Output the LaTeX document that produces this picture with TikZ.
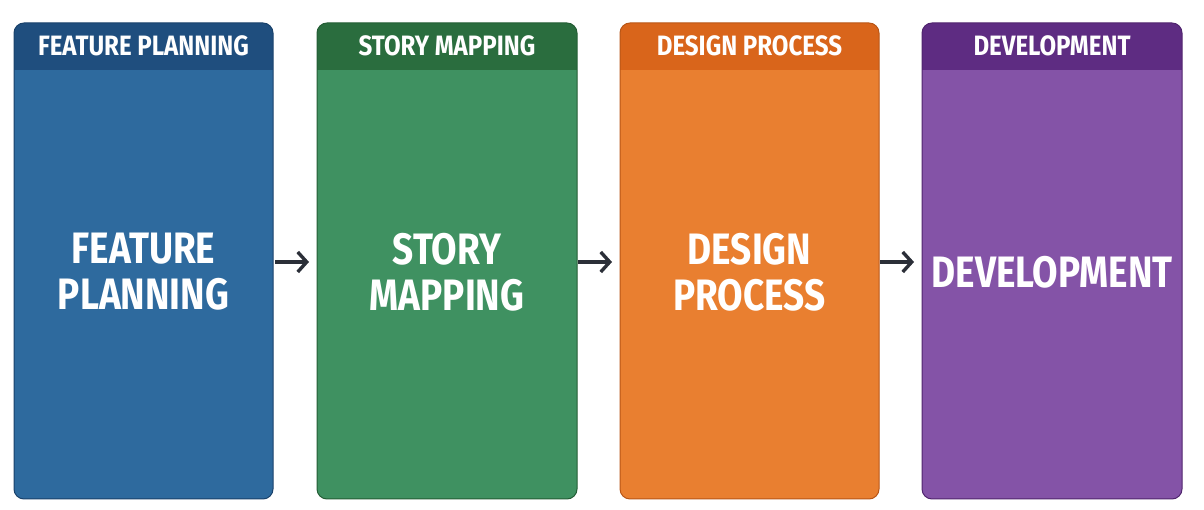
\documentclass[tikz,border=0pt]{standalone}
\usepackage{fontspec}
\setmainfont{Fira Sans}
\newfontfamily\condb[FakeStretch=0.84]{Fira Sans Bold}
\newfontfamily\condh[FakeStretch=0.86]{Fira Sans Bold}
\usetikzlibrary{arrows.meta}
\definecolor{bluebody}{HTML}{2E6A9E}
\definecolor{bluehead}{HTML}{1F4E7E}
\definecolor{greenbody}{HTML}{3F9161}
\definecolor{greenhead}{HTML}{2A6D3E}
\definecolor{orangebody}{HTML}{E97F30}
\definecolor{orangehead}{HTML}{D9651B}
\definecolor{purplebody}{HTML}{8453A7}
\definecolor{purplehead}{HTML}{5E2C82}
\definecolor{arrowgray}{HTML}{2B2F38}
\tikzset{
  x=1pt,y=1pt,
  headtext/.style={text=white, font=\condh\fontsize{28}{30}\selectfont, anchor=center},
  bigtext/.style={text=white, font=\condb\fontsize{44}{46}\selectfont, align=center, anchor=center},
  flow/.style={draw=arrowgray, line width=3.4pt, -{Straight Barb[length=9pt,width=20pt,line width=3.4pt]}}
}
\begin{document}
\begin{tikzpicture}
\useasboundingbox (0,0) rectangle (1204,510);
\foreach \xa/\xb/\col in {14/273/blue, 317/577/green, 620/879/orange, 922/1182/purple}{
  \fill[\col body, rounded corners=10pt] (\xa,11) rectangle (\xb,487);
  \begin{scope}
    \clip[rounded corners=10pt] (\xa,11) rectangle (\xb,487);
    \fill[\col head] (\xa,440) rectangle (\xb,487);
  \end{scope}
  \draw[\col head!85!black, line width=1pt, rounded corners=10pt] (\xa,11) rectangle (\xb,487);
}
\node[headtext] (h1) at (143.5,464) {FEATURE PLANNING};
\node[headtext] (h2) at (447,464) {STORY MAPPING};
\node[headtext] (h3) at (749.5,464) {DESIGN PROCESS};
\node[headtext] (h4) at (1052,464) {DEVELOPMENT};
\node[bigtext] (b1) at (143.5,238) {FEATURE\\PLANNING};
\node[bigtext] (b2) at (447,238) {STORY\\MAPPING};
\node[bigtext] (b3) at (749.5,238) {DESIGN\\PROCESS};
\node[bigtext] (b4) at (1052,238) {DEVELOPMENT};
\coordinate (a1s) at (275,248); \coordinate (a1e) at (309,248);
\coordinate (a2s) at (578,248); \coordinate (a2e) at (612,248);
\coordinate (a3s) at (880,248); \coordinate (a3e) at (914,248);
\draw[flow] (a1s) -- (a1e);
\draw[flow] (a2s) -- (a2e);
\draw[flow] (a3s) -- (a3e);
\end{tikzpicture}
\end{document}
